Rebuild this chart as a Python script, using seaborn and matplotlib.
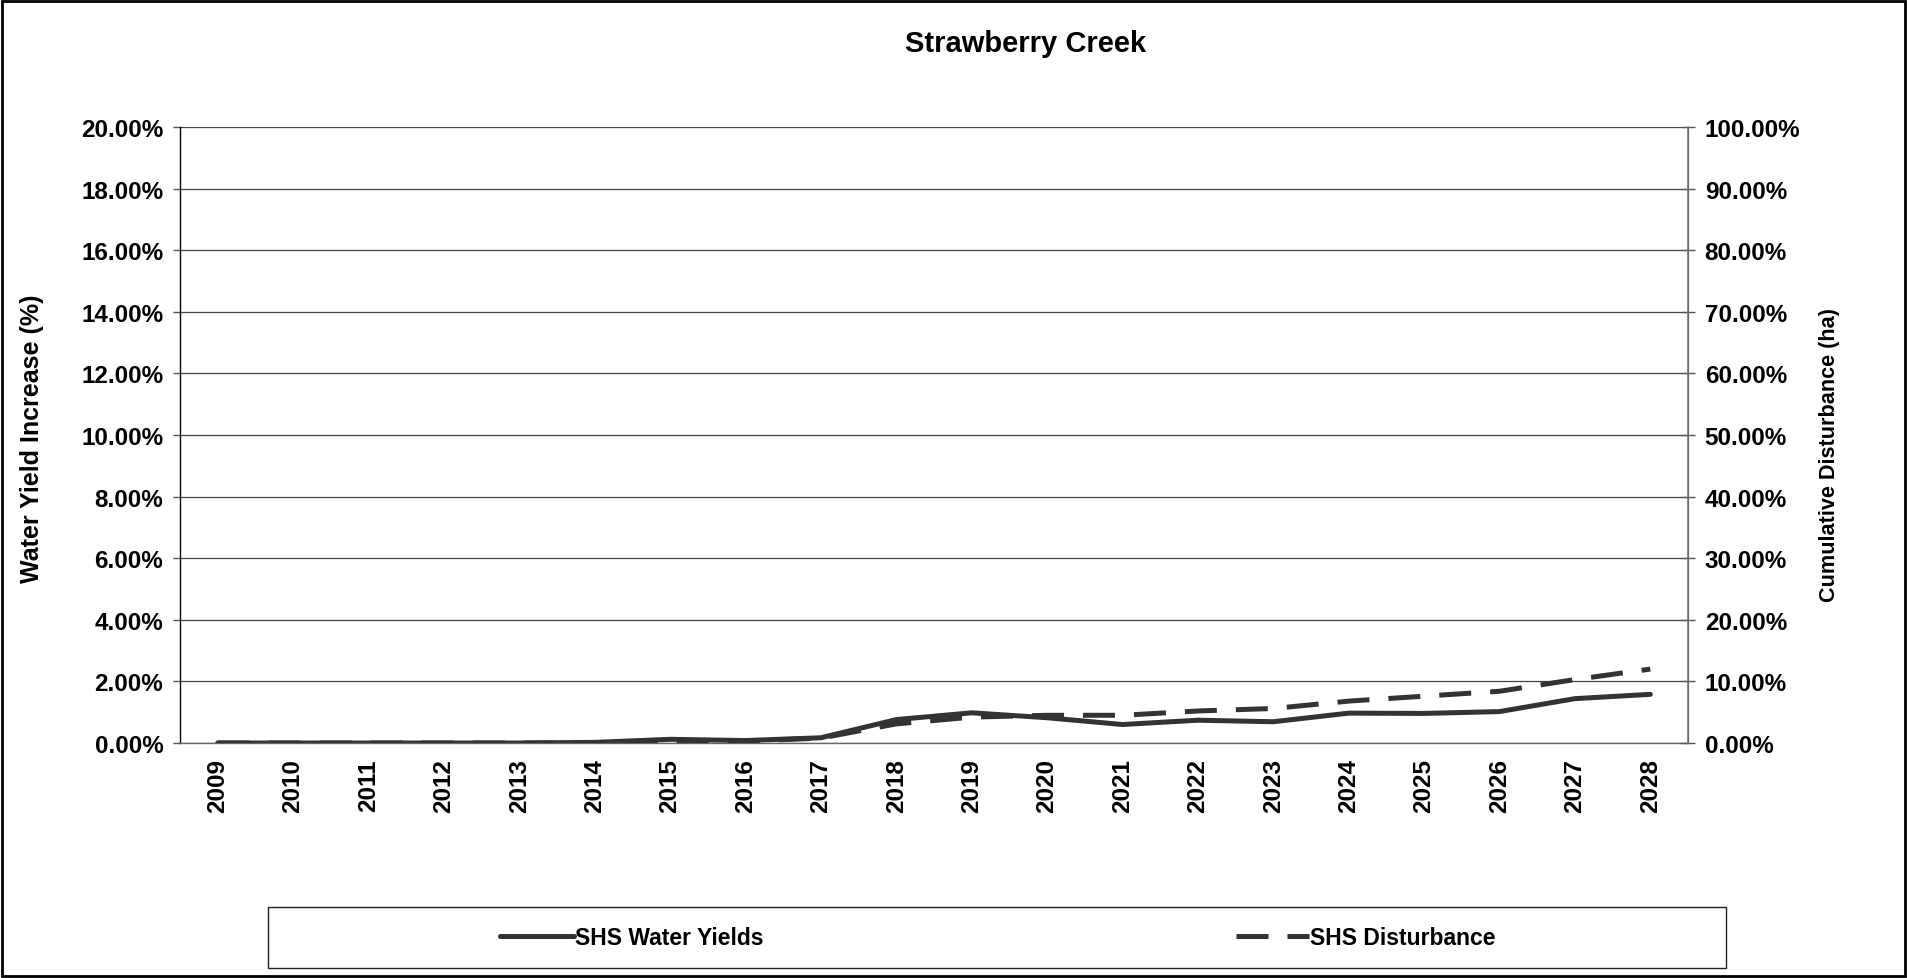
import numpy as np
import pandas as pd
import matplotlib
matplotlib.use("Agg")
import matplotlib.pyplot as plt
import seaborn as sns
from matplotlib.patches import Rectangle
from matplotlib.ticker import FuncFormatter, MultipleLocator

# chart values
years = list(range(2009, 2029))
water_yield = [0.0, 0.0, 0.0, 0.0, 0.0, 0.02, 0.12, 0.08, 0.17, 0.76,
               0.98, 0.82, 0.60, 0.74, 0.69, 0.97, 0.96, 1.02, 1.44, 1.58]   # % (left axis)
disturbance = [0.0, 0.0, 0.0, 0.0, 0.0, 0.0, 0.1, 0.3, 0.8, 3.1,
               4.2, 4.5, 4.5, 5.2, 5.6, 6.8, 7.6, 8.4, 10.3, 12.0]          # % (right axis)

title = "Strawberry Creek"
left_label = "Water Yield Increase (%)"
right_label = "Cumulative Disturbance (ha)"
series_names = ["SHS Water Yields", "SHS Disturbance"]

df = pd.DataFrame({"year": years, "yield": water_yield, "dist": disturbance})

sns.set_style("white")
plt.rcParams["font.family"] = ["Liberation Sans", "DejaVu Sans"]
plt.rcParams["font.weight"] = "bold"
plt.rcParams["text.color"] = "black"
plt.rcParams["xtick.color"] = "black"
plt.rcParams["ytick.color"] = "black"

LINE_COLOR = "#333333"
TICK_FS = 17.5

fig = plt.figure(figsize=(19.07, 9.79), dpi=100)
ax = fig.add_axes([180 / 1907, 1 - 744 / 979, (1688 - 180) / 1907, (744 - 128) / 979])
ax2 = ax.twinx()

sns.lineplot(data=df, x="year", y="yield", ax=ax, color=LINE_COLOR, lw=3.6,
             label=series_names[0], solid_joinstyle="round", solid_capstyle="round")
sns.lineplot(data=df, x="year", y="dist", ax=ax2, color=LINE_COLOR, lw=3.6,
             label=series_names[1], linestyle=(0, (6.4, 3.8)), dash_capstyle="butt")

# axes ranges / ticks
ax.set_xlim(years[0] - 0.5, years[-1] + 0.5)
ax.set_ylim(0, 20)
ax2.set_ylim(0, 100)
ax.yaxis.set_major_locator(MultipleLocator(2))
ax2.yaxis.set_major_locator(MultipleLocator(10))
ax.yaxis.set_major_formatter(FuncFormatter(lambda v, p: f"{v:.2f}%"))
ax2.yaxis.set_major_formatter(FuncFormatter(lambda v, p: f"{v:.2f}%"))

ax.set_xticks(years)
ax.set_xticklabels([str(y) for y in years], rotation=90, fontsize=TICK_FS, fontweight="bold")
ax.set_xticks([y - 0.5 for y in years] + [years[-1] + 0.5], minor=True)
ax.tick_params(axis="x", which="major", length=0, pad=11)
ax.tick_params(axis="x", which="minor", length=6, width=1, color="#555555", direction="out")
ax.tick_params(axis="y", which="major", length=5, width=1, color="#555555",
               direction="out", pad=7, labelsize=TICK_FS, left=True)
ax2.tick_params(axis="y", which="major", length=10, width=1, color="#555555",
                direction="inout", pad=7, labelsize=TICK_FS, right=True)
for lab in ax.get_yticklabels() + ax2.get_yticklabels():
    lab.set_fontweight("bold")

ax.grid(axis="y", color="#444444", lw=0.9)
ax.grid(axis="x", visible=False)
ax.set_axisbelow(True)

ax.set_xlabel("")
ax.set_ylabel("")
ax2.set_ylabel("")

for a in (ax, ax2):
    a.spines["top"].set_visible(False)
ax.spines["left"].set_color("black")
ax.spines["left"].set_linewidth(1.0)
ax.spines["bottom"].set_color("#666666")
ax.spines["bottom"].set_linewidth(1.0)
ax2.spines["right"].set_color("#777777")
ax2.spines["right"].set_linewidth(1.2)
ax2.spines["left"].set_visible(False)
ax2.spines["bottom"].set_visible(False)

# titles and axis labels
fig.text(1026 / 1907, 1 - 44 / 979, title, ha="center", va="center",
         fontsize=21, fontweight="bold")
fig.text(32 / 1907, 1 - 439 / 979, left_label, rotation=90, ha="center", va="center",
         fontsize=18, fontweight="bold")
fig.text(1829 / 1907, 1 - 455 / 979, right_label, rotation=90, ha="center", va="center",
         fontsize=15.6, fontweight="bold")

# legend in a boxed strip under the plot
h1, l1 = ax.get_legend_handles_labels()
h2, l2 = ax2.get_legend_handles_labels()
if ax.get_legend():
    ax.get_legend().remove()
if ax2.get_legend():
    ax2.get_legend().remove()
fig.legend(h1 + h2, l1 + l2, loc="center", bbox_to_anchor=(998 / 1907, 1 - 939 / 979),
           ncol=2, frameon=False, handlelength=3.2, handletextpad=0.05,
           columnspacing=20.6, prop={"weight": "bold", "size": 16.5})
fig.patches.append(Rectangle((268 / 1907, 1 - 969 / 979), (1726 - 268) / 1907, 61 / 979,
                             transform=fig.transFigure, fill=False, ec="#222222", lw=1.0))

# outer chart border
fig.patches.append(Rectangle((0.001, 0.002), 0.998, 0.996, transform=fig.transFigure,
                             fill=False, ec="black", lw=2.0))

fig.savefig("out.png", dpi=100)
